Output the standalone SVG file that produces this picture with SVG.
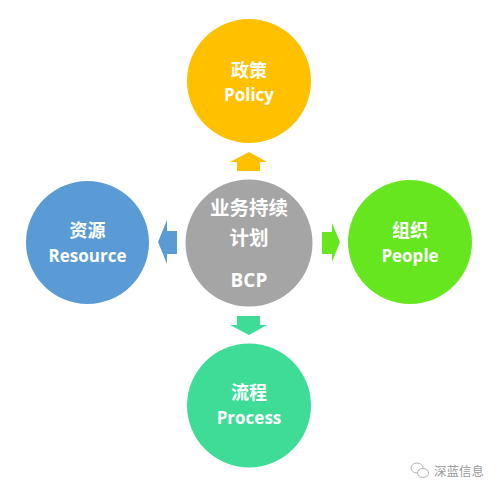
<svg xmlns="http://www.w3.org/2000/svg" width="500" height="493" viewBox="0 0 500 493">
<style>
.lbl{font-family:"Open Sans","Noto Sans CJK SC",sans-serif;font-weight:bold;fill:#fff;text-anchor:middle}
.cn{font-family:"Noto Sans CJK SC","Open Sans",sans-serif;font-weight:bold;fill:#fff;text-anchor:middle;font-size:18px}
.en{font-size:17px}
.wm{font-family:"Noto Sans CJK SC",sans-serif;fill:#9a9a9a;font-size:12.5px}
</style>
<rect width="500" height="493" fill="#fff"/>
<g id="connectors">
<polygon points="249,152 267,162 260,162 260,171 237,171 237,162 230,162" fill="#FFC000"/>
<polygon points="249,335 267,325 260,325 260,316 237,316 237,325 230,325" fill="#3FDC98"/>
<polygon points="158,242 167,220 167,231 177,231 177,254 167,254 167,264" fill="#5B9BD5"/>
<polygon points="340,242 332,223 332,232 322,232 322,254 332,254 332,262" fill="#66E61E"/>
</g>
<g id="policy">
<circle cx="249" cy="81" r="62" fill="#FFC000"/>
<text class="cn" x="249" y="77">政策</text>
<text class="lbl en" x="249" y="101">Policy</text>
</g>
<g id="bcp">
<circle cx="249" cy="243" r="63.5" fill="#A5A5A5"/>
<text class="cn" x="249" y="215" style="font-size:19.5px">业务持续</text>
<text class="cn" x="249" y="245" style="font-size:19.5px">计划</text>
<text class="lbl" x="249" y="287" style="font-size:19px">BCP</text>
</g>
<g id="resource">
<circle cx="87.5" cy="242.5" r="61.5" fill="#5B9BD5"/>
<text class="cn" x="87.5" y="237">资源</text>
<text class="lbl en" x="87.5" y="262">Resource</text>
</g>
<g id="people">
<circle cx="410" cy="242" r="62" fill="#66E61E"/>
<text class="cn" x="410" y="237">组织</text>
<text class="lbl en" x="410" y="262">People</text>
</g>
<g id="process">
<circle cx="249" cy="405.5" r="62" fill="#3FDC98"/>
<text class="cn" x="249" y="399">流程</text>
<text class="lbl en" x="249" y="424">Process</text>
</g>
<g id="watermark">
<ellipse cx="417" cy="468" rx="6" ry="5" fill="none" stroke="#b5b5b5" stroke-width="1"/>
<ellipse cx="423" cy="473" rx="5.5" ry="4.5" fill="#fff" stroke="#b5b5b5" stroke-width="1"/>
<text class="wm" x="434" y="476">深蓝信息</text>
</g>
</svg>
